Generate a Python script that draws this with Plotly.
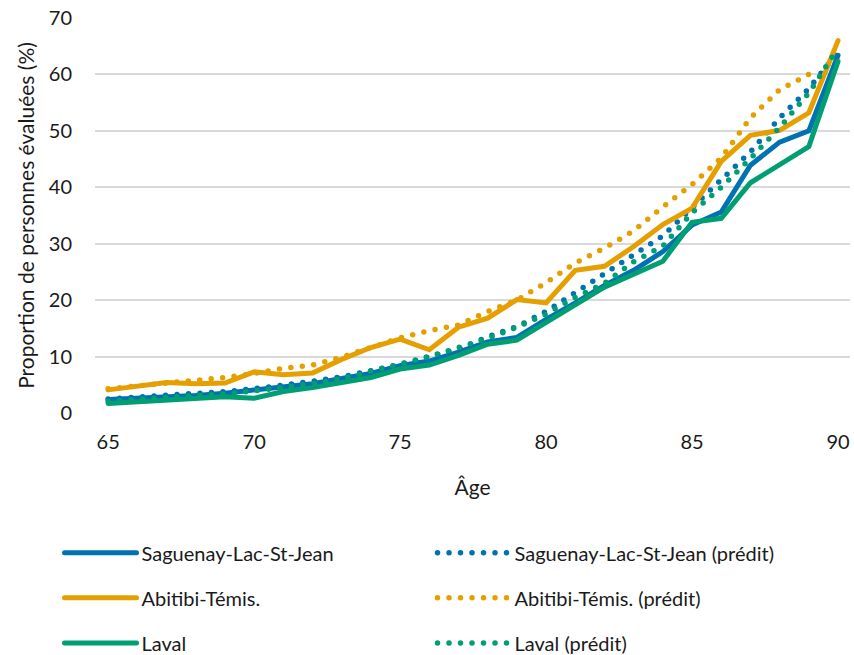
import plotly.graph_objects as go

ages = list(range(65, 91))

sag_obs = [2.4, 2.6, 2.8, 3.1, 3.5, 4.0, 4.6, 5.2, 6.1, 7.0, 8.4, 9.2, 10.8, 12.6, 13.4,
           16.6, 19.5, 22.6, 25.3, 28.6, 33.3, 35.6, 43.9, 48.0, 50.0, 63.4]
abi_obs = [4.1, 4.7, 5.4, 5.2, 5.3, 7.3, 6.8, 7.1, 9.5, 11.6, 13.1, 11.2, 15.2, 16.8, 20.1,
           19.5, 25.3, 26.0, 29.5, 33.4, 36.3, 44.6, 49.2, 50.1, 53.2, 66.0]
lav_obs = [1.7, 2.0, 2.3, 2.6, 2.9, 2.6, 3.8, 4.5, 5.4, 6.3, 7.8, 8.5, 10.2, 12.2, 12.9,
           16.0, 19.1, 22.3, 24.6, 26.9, 33.8, 34.5, 40.8, 43.9, 47.2, 62.3]

sag_pred = [2.5, 2.8, 3.1, 3.4, 3.8, 4.3, 4.9, 5.6, 6.4, 7.5, 8.6, 10.0, 11.3, 13.5, 15.3,
            18.0, 21.4, 24.8, 28.0, 31.4, 36.4, 41.5, 46.3, 52.3, 57.5, 64.0]
abi_pred = [4.3, 4.8, 5.2, 5.6, 6.3, 7.0, 7.9, 8.5, 9.9, 11.6, 13.3, 14.6, 15.6, 18.0, 20.0,
            23.1, 26.6, 29.2, 32.3, 36.5, 40.5, 45.2, 52.3, 57.3, 60.0, None]
lav_pred = [2.1, 2.4, 2.7, 3.0, 3.4, 3.9, 4.5, 5.2, 6.1, 7.3, 8.7, 10.0, 11.5, 13.2, 15.2,
            17.5, 20.5, 23.0, 26.8, 29.6, 35.5, 40.0, 45.1, 50.6, 56.7, 64.7]

x_ticks = [65, 70, 75, 80, 85, 90]
y_ticks = [0, 10, 20, 30, 40, 50, 60, 70]

BLUE = "#0072B2"
ORANGE = "#E69F00"
GREEN = "#009E73"
FONT = "Lato"
TXT = "#1a1a1a"

series = [
    ("Saguenay-Lac-St-Jean", sag_obs, BLUE, "solid", "legend"),
    ("Saguenay-Lac-St-Jean (prédit)", sag_pred, BLUE, "dot", "legend"),
    ("Abitibi-Témis.", abi_obs, ORANGE, "solid", "legend2"),
    ("Abitibi-Témis. (prédit)", abi_pred, ORANGE, "dot", "legend2"),
    ("Laval", lav_obs, GREEN, "solid", "legend3"),
    ("Laval (prédit)", lav_pred, GREEN, "dot", "legend3"),
]

fig = go.Figure()
for name, vals, col, style, leg in series:
    fig.add_trace(go.Scatter(
        x=ages, y=vals, name=name, mode="lines",
        line=dict(color=col, width=5 if style == "solid" else 5.5,
                  dash="solid" if style == "solid" else "0px,11.5px"),
        legend=leg,
    ))

def leg(y):
    return dict(orientation="h", x=-0.047, xanchor="left", y=y, yanchor="middle",
                entrywidth=286, entrywidthmode="pixels", itemwidth=72,
                font=dict(family=FONT, size=20, color=TXT),
                bgcolor="rgba(0,0,0,0)", traceorder="normal")

fig.update_layout(
    width=854, height=655,
    margin=dict(l=95, r=4, t=18, b=242, autoexpand=False),
    paper_bgcolor="white", plot_bgcolor="white",
    font=dict(family=FONT, size=20, color=TXT),
    showlegend=True,
    legend=leg(-0.354),
    legend2=leg(-0.468),
    legend3=leg(-0.582),
    xaxis=dict(range=[64.55, 90.41], tickvals=x_ticks, showgrid=False, zeroline=False,
               showline=False, ticks="", ticklabelstandoff=15, automargin=False,
               ticklabeloverflow="allow",
               tickfont=dict(family=FONT, size=20, color=TXT),
               title=dict(text="Âge", font=dict(family=FONT, size=21, color=TXT), standoff=28)),
    yaxis=dict(range=[0, 70], tickvals=y_ticks, showgrid=True, gridcolor="#d9d9d9", gridwidth=1.5,
               zeroline=False, showline=False, ticks="", ticklabelstandoff=22, automargin=False,
               ticklabeloverflow="allow",
               tickfont=dict(family=FONT, size=20, color=TXT),
               title=dict(text="Proportion de personnes évaluées (%)",
                          font=dict(family=FONT, size=21, color=TXT), standoff=8)),
)

post = """
document.body.style.margin='0';
document.body.style.overflow='hidden';
var gd = document.getElementsByClassName('plotly-graph-div')[0];
function rc(){
  gd.querySelectorAll('path.js-line').forEach(function(p){p.style.strokeLinecap='round';});
  gd.querySelectorAll('.legendlines path').forEach(function(p){p.style.strokeLinecap='round';});
}
rc();
gd.on('plotly_afterplot', rc);
"""

fig.write_html("out.html", post_script=post, config={"displayModeBar": False})
